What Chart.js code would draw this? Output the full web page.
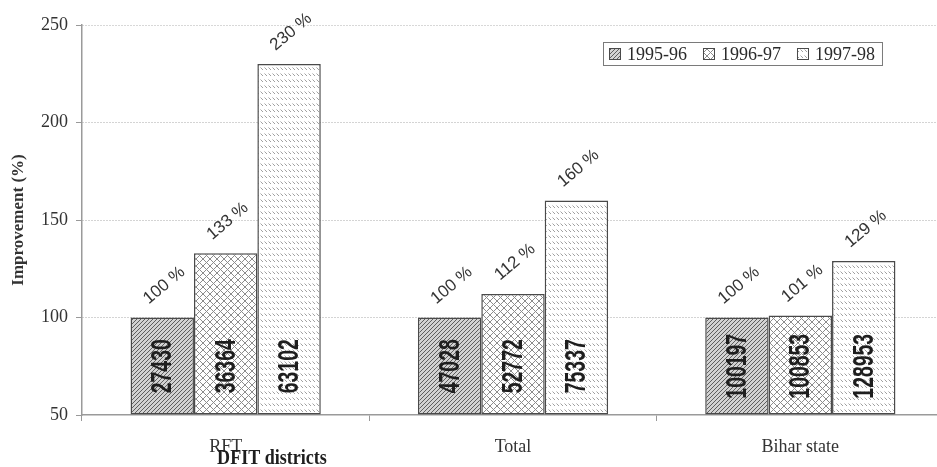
<!DOCTYPE html>
<html>
<head>
<meta charset="utf-8">
<script src="https://cdn.jsdelivr.net/npm/chart.js@4.4.1/dist/chart.umd.min.js"></script>
<style>
  html, body { margin: 0; padding: 0; background: #fff; overflow: hidden; width: 937px; height: 467px; }
  #wrap { width: 960px; height: 467px; }
</style>
</head>
<body>
<div id="wrap"><canvas id="c" width="960" height="467"></canvas></div>
<script>
// DFIT districts: improvement relative to 1995-96 (%), with absolute counts
const districts = ['RFT', 'Total', 'Bihar state'];
const seasons = ['1995-96', '1996-97', '1997-98'];
const improvement9596 = [100, 100, 100];
const improvement9697 = [133, 112, 101];
const improvement9798 = [230, 160, 129];
const count9596 = [27430, 47028, 100197];
const count9697 = [36364, 52772, 100853];
const count9798 = [63102, 75337, 128953];
const yTicks = [50, 100, 150, 200, 250];

const SERIF = '"Liberation Serif", "Times New Roman", serif';
const SANS = '"Liberation Sans", Arial, sans-serif';

// --- fill patterns for the three seasons ---
function tile(w, h, draw) {
  const c = document.createElement('canvas');
  c.width = w; c.height = h;
  const g = c.getContext('2d');
  draw(g, w, h);
  return document.createElement('canvas').getContext('2d').createPattern(c, 'repeat');
}
const hatchDiag = tile(4, 4, (g, s) => {
  g.fillStyle = '#d2d2d2'; g.fillRect(0, 0, s, s);
  g.strokeStyle = '#5e5e5e'; g.lineWidth = 1;
  g.beginPath();
  g.moveTo(-1, s + 1); g.lineTo(s + 1, -1);
  g.moveTo(-1, 1); g.lineTo(1, -1);
  g.moveTo(s - 1, s + 1); g.lineTo(s + 1, s - 1);
  g.stroke();
});
const hatchCross = tile(7, 7, (g, s) => {
  g.fillStyle = '#ffffff'; g.fillRect(0, 0, s, s);
  g.strokeStyle = '#8c8c8c'; g.lineWidth = 1;
  g.beginPath();
  g.moveTo(-1, -1); g.lineTo(s + 1, s + 1);
  g.moveTo(-1, s + 1); g.lineTo(s + 1, -1);
  g.stroke();
});
const hatchDash = tile(4, 6, (g, w, h) => {
  g.fillStyle = '#ffffff'; g.fillRect(0, 0, w, h);
  g.strokeStyle = '#a0a0a0'; g.lineWidth = 1;
  g.beginPath();
  g.moveTo(0.5, 1.5); g.lineTo(3, 4);
  g.stroke();
});
const fills = [hatchDiag, hatchCross, hatchDash];
const seriesValues = [improvement9596, improvement9697, improvement9798];
const seriesCounts = [count9596, count9697, count9798];

const bgPlugin = {
  id: 'bg',
  beforeDraw(chart) {
    const ctx = chart.ctx;
    ctx.save(); ctx.fillStyle = '#fff';
    ctx.fillRect(0, 0, chart.width, chart.height);
    ctx.restore();
  }
};

// percent labels above bars, counts written inside bars
const barText = {
  id: 'barText',
  afterDatasetsDraw(chart) {
    const ctx = chart.ctx;
    const y = chart.scales.y;
    chart.data.datasets.forEach((ds, i) => {
      const meta = chart.getDatasetMeta(i);
      meta.data.forEach((el, j) => {
        // percent label
        ctx.save();
        ctx.translate(el.x + 2, el.y - 32);
        ctx.rotate(-40 * Math.PI / 180);
        ctx.font = '17px ' + SANS;
        ctx.fillStyle = '#333';
        ctx.textAlign = 'center';
        ctx.textBaseline = 'middle';
        ctx.fillText(ds.data[j] + ' %', 0, 0);
        ctx.restore();
        // count label, centred between the axis floor and the 100 % level
        const txt = String(seriesCounts[i][j]);
        const mid = (y.getPixelForValue(y.min) + y.getPixelForValue(100)) / 2;
        ctx.save();
        ctx.translate(el.x, mid);
        ctx.rotate(-Math.PI / 2);
        ctx.font = 'bold 29px "Liberation Sans Narrow", ' + SANS;
        const w = ctx.measureText(txt).width;
        const target = txt.length * 10.8;
        ctx.scale(Math.min(1, target / w), 1);
        ctx.fillStyle = '#1e1e1e';
        ctx.textAlign = 'center';
        ctx.textBaseline = 'middle';
        ctx.fillText(txt, 0, 1);
        ctx.restore();
      });
    });
  }
};

// boxed legend and axis caption
const extras = {
  id: 'extras',
  afterDraw(chart) {
    const ctx = chart.ctx;
    const area = chart.chartArea;
    ctx.save();
    // legend
    ctx.font = '18px ' + SERIF;
    const boxL = 603, boxT = 42, boxH = 23;
    let x = boxL + 6;
    const items = chart.data.datasets.map(ds => ({ label: ds.label, fill: ds.backgroundColor }));
    const parts = [];
    items.forEach((it, k) => {
      parts.push({ x, it });
      x += 12 + 6 + ctx.measureText(it.label).width + (k < items.length - 1 ? 16 : 7);
    });
    ctx.fillStyle = '#fff';
    ctx.fillRect(boxL, boxT, x - boxL, boxH);
    ctx.strokeStyle = '#7a7a7a'; ctx.lineWidth = 1;
    ctx.strokeRect(boxL + 0.5, boxT + 0.5, x - boxL, boxH);
    parts.forEach(p => {
      ctx.fillStyle = p.it.fill;
      ctx.fillRect(p.x, boxT + 6, 12, 12);
      ctx.strokeStyle = '#4a4a4a';
      ctx.strokeRect(p.x + 0.5, boxT + 6.5, 11, 11);
      ctx.fillStyle = '#2a2a2a';
      ctx.textAlign = 'left';
      ctx.textBaseline = 'alphabetic';
      ctx.fillText(p.it.label, p.x + 18, boxT + 18);
    });
    // x-axis caption
    ctx.font = 'bold 19px ' + SERIF;
    ctx.fillStyle = '#1e1e1e';
    ctx.textAlign = 'center';
    ctx.textBaseline = 'middle';
    ctx.save();
    ctx.translate(area.left + 190, 459);
    ctx.scale(0.95, 1.1);
    ctx.fillText('DFIT districts', 0, 0);
    ctx.restore();
    ctx.restore();
  }
};

new Chart(document.getElementById('c'), {
  type: 'bar',
  data: {
    labels: districts,
    datasets: seasons.map((s, i) => ({
      label: s,
      data: seriesValues[i],
      base: yTicks[0],
      backgroundColor: fills[i],
      borderColor: '#4a4a4a',
      borderWidth: 1.5,
      borderSkipped: false,
      categoryPercentage: 0.662,
      barPercentage: 1.0
    }))
  },
  options: {
    responsive: false,
    animation: false,
    devicePixelRatio: 1,
    layout: { padding: { top: 25, right: 16, left: 0, bottom: 0 } },
    plugins: {
      legend: { display: false },
      tooltip: { enabled: false }
    },
    scales: {
      x: {
        offset: true,
        grid: { offset: true, drawOnChartArea: false, drawTicks: true, tickLength: 6, tickColor: '#999', tickWidth: 1 },
        border: { color: '#9a9a9a', width: 1.5 },
        ticks: { font: { family: SERIF, size: 18 }, color: '#333', padding: 15 },
        afterFit(scale) { scale.height = 52; }
      },
      y: {
        min: 50, max: 250,
        afterBuildTicks(scale) { scale.ticks = yTicks.map(v => ({ value: v })); },
        grid: {
          color: ctx => (ctx.tick && ctx.tick.value === 50) ? 'rgba(0,0,0,0)' : (ctx.tick && ctx.tick.value === 250 ? '#b0b0b0' : '#a8a8a8'),
          lineWidth: 1, tickLength: 6, tickColor: '#999', tickBorderDash: []
        },
        border: { color: '#9a9a9a', width: 1.5, dash: [1, 2] },
        ticks: { font: { family: SERIF, size: 18 }, color: '#333', padding: 8 },
        title: {
          display: true, text: 'Improvement (%)',
          font: { family: SERIF, size: 17, weight: 'bold' }, color: '#333',
          padding: { top: 8, bottom: 0 }
        },
        afterFit(scale) { scale.width = 82; }
      }
    }
  },
  plugins: [bgPlugin, barText, extras]
});
</script>
</body>
</html>
